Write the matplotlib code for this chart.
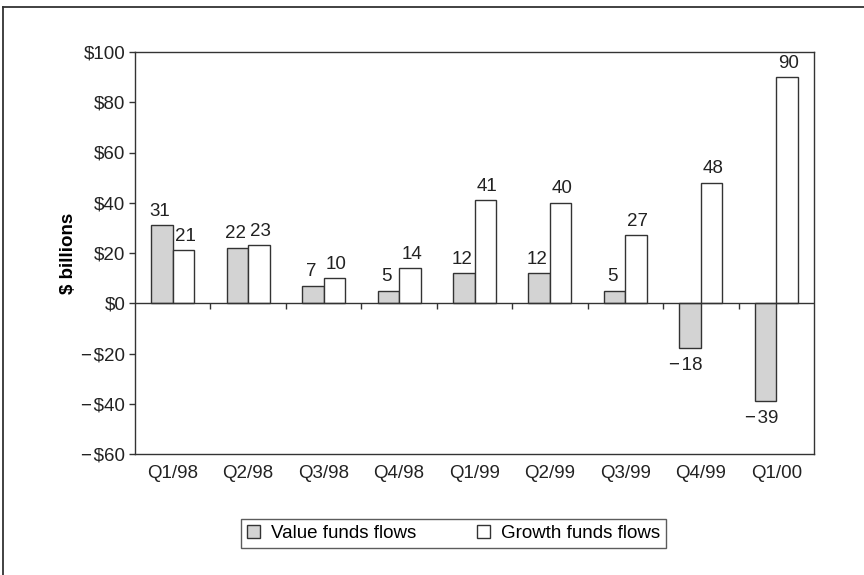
import matplotlib.pyplot as plt
import numpy as np
from matplotlib.lines import Line2D
from matplotlib.ticker import FuncFormatter

# data
quarters = ['Q1/98', 'Q2/98', 'Q3/98', 'Q4/98', 'Q1/99', 'Q2/99', 'Q3/99', 'Q4/99', 'Q1/00']
value_flows = [31, 22, 7, 5, 12, 12, 5, -18, -39]
growth_flows = [21, 23, 10, 14, 41, 40, 27, 48, 90]
y_ticks = [-60, -40, -20, 0, 20, 40, 60, 80, 100]

plt.rcParams['font.family'] = ['Liberation Sans', 'DejaVu Sans']
fs = 13.5
edge = '#333333'
txt = '#222222'
minus = '\u2212\u200a'

fig = plt.figure(figsize=(8.64, 5.75), dpi=100)
ax = fig.add_axes([135 / 864, 1 - 454 / 575, 679 / 864, 402 / 575])

x = np.arange(len(quarters))
w = 0.285
b1 = ax.bar(x - w / 2, value_flows, w, color='#d3d3d3', edgecolor=edge, linewidth=1.0,
            label='Value funds flows')
b2 = ax.bar(x + w / 2, growth_flows, w, color='white', edgecolor=edge, linewidth=1.0,
            label='Growth funds flows')

# labels on bars (pushed a little outward, as in the original)
for bars, dx in ((b1, -1.3), (b2, 1.3)):
    for r in bars:
        h = r.get_height()
        cx = r.get_x() + r.get_width() / 2
        if h >= 0:
            ax.annotate(f'{h:.0f}', (cx, h), xytext=(dx, 4), textcoords='offset points',
                        ha='center', va='bottom', fontsize=fs, color=txt)
        else:
            ax.annotate(f'{minus}{abs(h):.0f}', (cx, h), xytext=(-3, -6),
                        textcoords='offset points', ha='center', va='top',
                        fontsize=fs, color=txt)

# zero line with category separators
ax.axhline(0, color=edge, linewidth=1.0, zorder=3)
ax.plot(x[:-1] + 0.5, np.zeros(len(x) - 1), linestyle='none', marker=3,
        markersize=4, color=edge, markeredgewidth=1.0, zorder=3)

ax.set_xlim(-0.5, len(quarters) - 0.5)
ax.set_ylim(-60, 100)
ax.set_yticks(y_ticks)
ax.yaxis.set_major_formatter(FuncFormatter(
    lambda v, p: f'{minus}${abs(v):.0f}' if v < 0 else f'${v:.0f}'))
ax.set_xticks(x)
ax.set_xticklabels(quarters)
ax.tick_params(axis='x', length=0, pad=8, labelsize=fs, labelcolor=txt)
ax.tick_params(axis='y', length=4, width=1.0, color=edge, pad=3, labelsize=fs,
               labelcolor=txt)
ax.set_ylabel('$ billions', fontsize=fs, fontweight='bold')
ax.yaxis.set_label_coords(-0.086, 0.5)

for s in ax.spines.values():
    s.set_color(edge)
    s.set_linewidth(1.0)

leg = fig.legend(loc='center', bbox_to_anchor=(453.5 / 864, 1 - 533.5 / 575), ncol=2,
                 fontsize=fs, frameon=True, fancybox=False, handlelength=0.7,
                 handleheight=0.7, handletextpad=0.6, columnspacing=3.2,
                 borderpad=0.3)
leg.get_frame().set_edgecolor(edge)
leg.get_frame().set_linewidth(1.0)

# outer frame (only top and left edges are visible in the crop)
fig.add_artist(Line2D([3 / 864, 3 / 864], [0, 1 - 7 / 575], transform=fig.transFigure,
                      color=edge, linewidth=1.3))
fig.add_artist(Line2D([3 / 864, 1], [1 - 7 / 575, 1 - 7 / 575], transform=fig.transFigure,
                      color=edge, linewidth=1.3))

fig.savefig('out.png', dpi=100)
